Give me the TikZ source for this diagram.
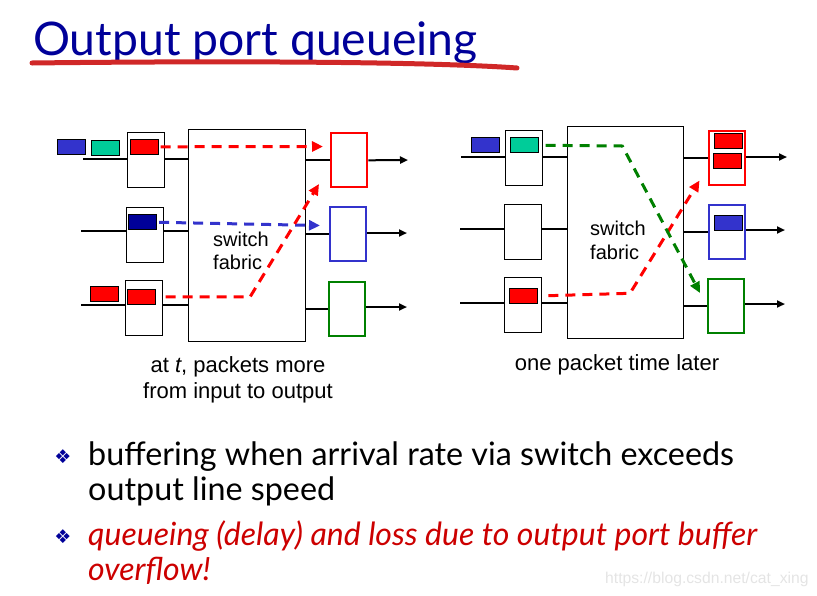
\documentclass[tikz,border=0pt]{standalone}
\usepackage{fontspec}
\setmainfont{Liberation Sans}
\newfontfamily\gillfont{Lato}
\newfontfamily\symfont{DejaVu Sans}
\usetikzlibrary{arrows.meta}
\definecolor{titleblue}{RGB}{0,0,153}
\definecolor{pred}{RGB}{255,0,0}
\definecolor{pblue}{RGB}{51,51,204}
\definecolor{pteal}{RGB}{0,204,153}
\definecolor{pnavy}{RGB}{0,0,153}
\definecolor{pgreen}{RGB}{0,128,0}
\definecolor{brush}{RGB}{208,40,40}
\definecolor{textred}{RGB}{204,0,0}
\definecolor{wmgray}{RGB}{228,228,228}
\tikzset{
  inbox/.style={draw=black, line width=1pt, fill=white, inner sep=0pt, minimum width=37pt, minimum height=55pt},
  outbox/.style={draw=#1, line width=2pt, fill=white, inner sep=0pt, minimum width=36pt, minimum height=54pt},
  fabric/.style={draw=black, line width=1pt, fill=white, inner sep=0pt, minimum width=117pt, minimum height=212pt},
  pkt/.style={draw=black, line width=0.8pt, fill=#1, inner sep=0pt, minimum width=28pt, minimum height=15pt},
  wire/.style={line width=2pt, black},
  outwire/.style={line width=2pt, black, -{Triangle[length=8pt,width=7pt]}},
  flow/.style={line width=3pt, draw=#1, dash pattern=on 10pt off 7pt, -{Triangle[length=11pt,width=10pt,fill=#1]}},
  lbl/.style={inner sep=0pt, anchor=base west, font=\fontsize{20}{23}\selectfont},
  captxt/.style={inner sep=0pt, anchor=base, font=\fontsize{22}{26}\selectfont},
  btext/.style={inner sep=0pt, anchor=base west, font=\gillfont\fontsize{32.3}{35}\selectfont},
  bredtext/.style={btext, text=textred, font=\gillfont\itshape\fontsize{32}{35}\selectfont},
  bul/.style={inner sep=0pt, text=titleblue, font=\symfont\fontsize{19}{19}\selectfont}
}
\begin{document}
\begin{tikzpicture}[x=1pt,y=-1pt]
\useasboundingbox (0,0) rectangle (817,595);
% title
\node[inner sep=0pt, anchor=base west, text=titleblue, font=\gillfont\fontsize{46.3}{50}\selectfont] (title) at (33,55) {Output port queueing};
\draw[brush, line width=5pt, line cap=round] (32,63) .. controls (200,61) and (420,61) .. (517,68);

% ===== left diagram =====
\node[fabric] (fabL) at (246.8,235.2) {};
\node[inbox] (in1) at (145.5,159.5) {};
\node[inbox] (in2) at (144.8,234.8) {};
\node[inbox] (in3) at (143.8,307.7) {};
\node[outbox=pred] (oR) at (349.3,160.3) {};
\node[outbox=pblue] (oB) at (347.8,234.3) {};
\node[outbox=pgreen] (oG) at (347.3,308.5) {};
\coordinate (a1) at (83,159);
\coordinate (a2) at (81,231);
\coordinate (a3) at (81,305);
\draw[wire] (a1) -- (in1.west |- a1);
\draw[wire] (in1.east |- a1) -- (fabL.west |- a1);
\draw[wire] (a2) -- (in2.west |- a2);
\draw[wire] (in2.east |- a2) -- (fabL.west |- a2);
\draw[wire] (a3) -- (in3.west |- a3);
\draw[wire] (in3.east |- a3) -- (fabL.west |- a3);
\coordinate (e1) at (408,160);
\coordinate (e2) at (407,233);
\coordinate (e3) at (407,307);
\draw[wire] (fabL.east |- oR.west) -- (oR.west);
\draw[wire] (fabL.east |- oB.west) -- (oB.west);
\draw[wire] (fabL.east |- oG.west) -- (oG.west);
\draw[outwire] (oR.east) -- (e1);
\draw[outwire] (oB.east |- e2) -- (e2);
\draw[outwire] (oG.east |- e3) -- (e3);
\node[pkt=pblue] (pB1) at (71.8,146.8) {};
\node[pkt=pteal] (pT1) at (105.3,147.8) {};
\node[pkt=pred] (pR1) at (144.3,146.8) {};
\node[pkt=pnavy] (pN2) at (142.8,222.3) {};
\node[pkt=pred] (pR3o) at (104.8,293.8) {};
\node[pkt=pred] (pR3) at (141.3,296.8) {};
\node[lbl] (swL1) at (213,246.5) {switch};
\node[lbl] (swL2) at (213,269.5) {fabric};
\coordinate (fR1) at (323,146.5);
\coordinate (fB2) at (320,225.5);
\coordinate (kR3) at (250,297);
\coordinate (fR3) at (319,184);
\draw[flow=pred] ([xshift=2pt]pR1.east) -- (fR1);
\draw[flow=pblue] ([xshift=2pt]pN2.east) -- (fB2);
\draw[flow=pred] ([xshift=10pt]pR3.east) -- (kR3) -- (fR3);
\node[captxt] (capL1) at (238,372) {at \textit{t}, packets more};
\node[captxt] (capL2) at (238,398) {from input to output};

% ===== right diagram =====
\node[fabric, minimum width=116pt] (fabR) at (625.3,232.2) {};
\node[inbox] (rin1) at (523.8,157.8) {};
\node[inbox] (rin2) at (522.8,231.8) {};
\node[inbox] (rin3) at (522.8,304.8) {};
\node[outbox=pred] (roR) at (727.3,158) {};
\node[outbox=pblue] (roB) at (726.5,232.2) {};
\node[outbox=pgreen] (roG) at (725.8,305.5) {};
\coordinate (b1) at (461,157);
\coordinate (b2) at (460,229);
\coordinate (b3) at (460,302.7);
\draw[wire] (b1) -- (rin1.west |- b1);
\draw[wire] (rin1.east |- b1) -- (fabR.west |- b1);
\draw[wire] (b2) -- (rin2.west |- b2);
\draw[wire] (rin2.east |- b2) -- (fabR.west |- b2);
\draw[wire] (b3) -- (rin3.west |- b3);
\draw[wire] (rin3.east |- b3) -- (fabR.west |- b3);
\coordinate (g1) at (787,157);
\coordinate (g2) at (785,230);
\coordinate (g3) at (785,304);
\draw[wire] (fabR.east |- roR.west) -- (roR.west);
\draw[wire] (fabR.east |- roB.west) -- (roB.west);
\draw[wire] (fabR.east |- roG.west) -- (roG.west);
\draw[outwire] (roR.east |- g1) -- (g1);
\draw[outwire] (roB.east |- g2) -- (g2);
\draw[outwire] (roG.east |- g3) -- (g3);
\node[pkt=pblue] (rpB) at (485.5,144.8) {};
\node[pkt=pteal] (rpT) at (524.3,145.3) {};
\node[pkt=pred] (rpR3) at (523,295.7) {};
\node[pkt=pred] (rq1) at (728,140.8) {};
\node[pkt=pred] (rq2) at (727.5,160.8) {};
\node[pkt=pblue] (rqB) at (728,222.8) {};
\node[lbl] (swR1) at (590,235.7) {switch};
\node[lbl] (swR2) at (590,259) {fabric};
\coordinate (kG) at (622.3,146);
\coordinate (fG) at (700,293);
\coordinate (kR) at (630,293.3);
\coordinate (fR) at (699.5,180.5);
\draw[flow=pred] ([xshift=11pt]rpR3.east) -- (kR) -- (fR);
\draw[flow=pgreen] ([xshift=7pt]rpT.east) -- (kG) -- (fG);
\node[captxt] (capR) at (617,370) {one packet time later};

% ===== bullets =====
\node[bul] (d1) at (63,457) {❖};
\node[btext] (t1a) at (88,465) {buffering when arrival rate via switch exceeds};
\node[btext] (t1b) at (88,500) {output line speed};
\node[bul] (d2) at (63,537) {❖};
\node[bredtext] (t2a) at (88,545) {queueing (delay) and loss due to output port buffer};
\node[bredtext] (t2b) at (88,580) {overflow!};
\node[inner sep=0pt, anchor=base west, text=wmgray, font=\fontsize{15.7}{18}\selectfont] (wm) at (605,583) {https://blog.csdn.net/cat\_xing};
\end{tikzpicture}
\end{document}
